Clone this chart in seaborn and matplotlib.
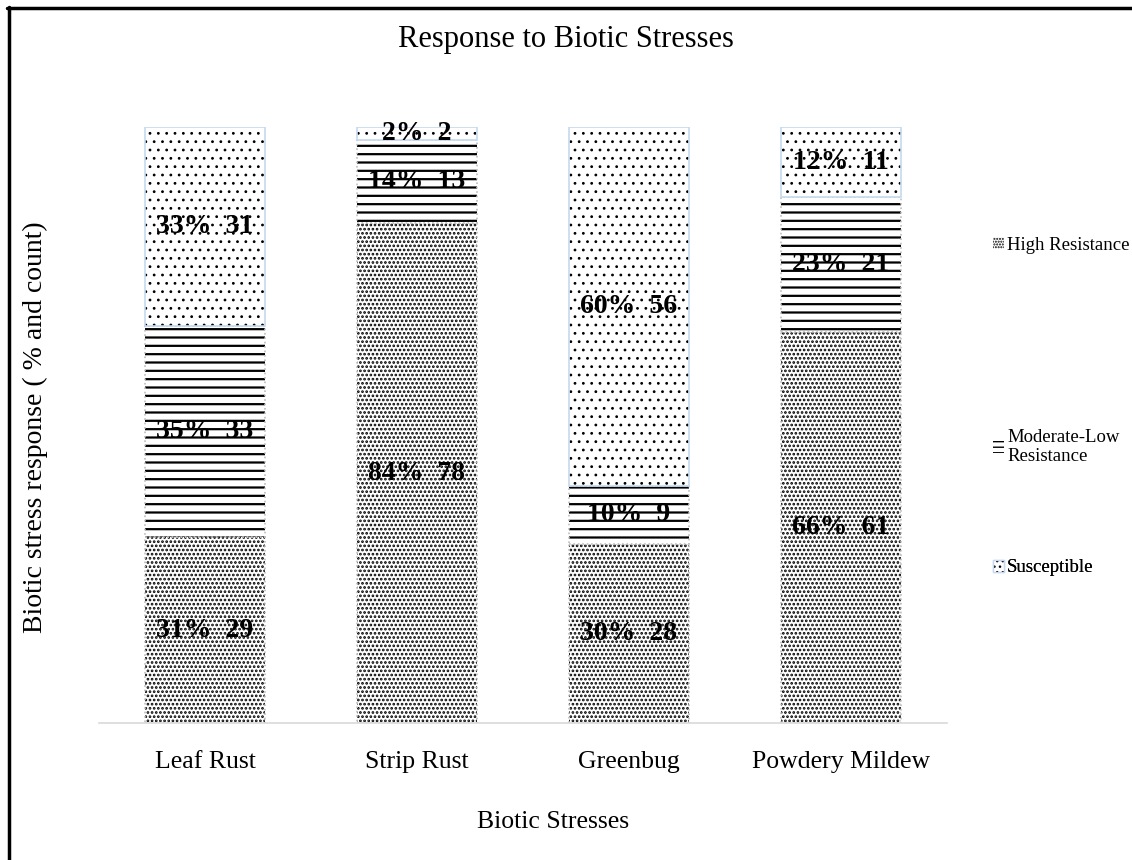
import numpy as np
import matplotlib
matplotlib.use("Agg")
import matplotlib.pyplot as plt
import seaborn as sns
from matplotlib.patches import Patch
from matplotlib.lines import Line2D

# ---- data ----
categories = ["Leaf Rust", "Strip Rust", "Greenbug", "Powdery Mildew"]
series_names = ["High Resistance", "Moderate-Low\nResistance", "Susceptible"]
high_counts = [29, 78, 28, 61]
high_pcts = [31, 84, 30, 66]
mod_counts = [33, 13, 9, 21]
mod_pcts = [35, 14, 10, 23]
sus_counts = [31, 2, 56, 11]
sus_pcts = [33, 2, 60, 12]
title = "Response to Biotic Stresses"
x_label = "Biotic Stresses"
y_label = "Biotic stress response ( % and count)"

sns.set_theme(style="white")
plt.rcParams['font.family'] = ['Liberation Serif', 'DejaVu Serif']
plt.rcParams['text.color'] = 'black'
plt.rcParams['xtick.color'] = 'black'

W, H = 1132, 860
fig = plt.figure(figsize=(W / 100, H / 100), dpi=100)
fig.patch.set_facecolor("white")
ax = fig.add_axes([99 / W, 1 - 723 / H, 848 / W, 596 / H])

SUS_EDGE = "#C6D9F0"
specs = [
    (high_counts, high_pcts, "....", 1.3, "#BFBFBF", ":"),
    (mod_counts, mod_pcts, "--", 1.6, "#BFBFBF", ":"),
    (sus_counts, sus_pcts, "..", 0.8, SUS_EDGE, "-"),
]

bottom = np.zeros(len(categories))
for counts, pcts, hatch, hlw, outline, ls in specs:
    with plt.rc_context({"hatch.linewidth": hlw}):
        sns.barplot(x=categories, y=counts, order=categories, bottom=bottom,
                    color="white", edgecolor="black", linewidth=0, hatch=hatch,
                    width=0.57, ax=ax)
        cont = ax.containers[-1]
        for p in cont.patches:
            if hasattr(p, "set_hatch_linewidth"):
                p.set_hatch_linewidth(hlw)
    ax.bar_label(cont, labels=[f"{p}%  {c}" for p, c in zip(pcts, counts)],
                 label_type="center", fontsize=20, fontweight="bold", color="black")
    sns.barplot(x=categories, y=counts, order=categories, bottom=bottom,
                color=outline, fill=False, linewidth=1.2, linestyle=ls,
                width=0.57, ax=ax)
    bottom = bottom + np.array(counts)

ax.set_xlim(-0.5, len(categories) - 0.5)
ax.set_ylim(0, bottom.max())
ax.set_yticks([])
ax.set_xlabel("")
ax.set_ylabel("")
for s in ["left", "right", "top"]:
    ax.spines[s].set_visible(False)
ax.spines["bottom"].set_color("#D9D9D9")
ax.spines["bottom"].set_linewidth(1.2)
ax.tick_params(axis="x", length=0, pad=20, labelsize=18.5, colors="black")
ax.set_facecolor("white")

fig.text(566 / W, 1 - 40 / H, title, fontsize=22, ha="center", va="center",
         color="black")
fig.text(553 / W, 1 - 822 / H, x_label, fontsize=18.5, ha="center", va="center",
         color="black")
fig.text(35 / W, 1 - 427 / H, y_label, fontsize=20, ha="center", va="center",
         rotation=90, color="black")

# legend entries
leg_specs = [
    (series_names[0], "......", 1.0, None, 245),
    (series_names[1], "---", 1.4, None, 447),
    (series_names[2], "...", 0.8, SUS_EDGE, 568),
]
for label, hatch, hlw, ec, ypix in leg_specs:
    with plt.rc_context({"hatch.linewidth": hlw}):
        h = Patch(facecolor="white", edgecolor="black", hatch=hatch, linewidth=0)
    if hasattr(h, "set_hatch_linewidth"):
        h.set_hatch_linewidth(hlw)
    handle = h
    if ec is not None:
        handle = (h, Patch(facecolor="none", edgecolor=ec, linewidth=1.0))
    leg = ax.legend(handles=[handle], labels=[label], loc="center left",
                    bbox_to_anchor=(993 / W, 1 - ypix / H),
                    bbox_transform=fig.transFigure, frameon=False,
                    handlelength=0.6, handleheight=0.6, handletextpad=0.15,
                    borderpad=0, borderaxespad=0, fontsize=13.5,
                    labelcolor="black")
    ax.add_artist(leg)

# figure border (left and top)
fig.add_artist(Line2D([8.5 / W, 8.5 / W], [0, 1 - 7 / H], color="black",
                      linewidth=2.5, transform=fig.transFigure))
fig.add_artist(Line2D([7 / W, 1], [1 - 7.5 / H, 1 - 7.5 / H], color="black",
                      linewidth=2.5, transform=fig.transFigure))

fig.savefig("out.png", dpi=100, facecolor="white")
